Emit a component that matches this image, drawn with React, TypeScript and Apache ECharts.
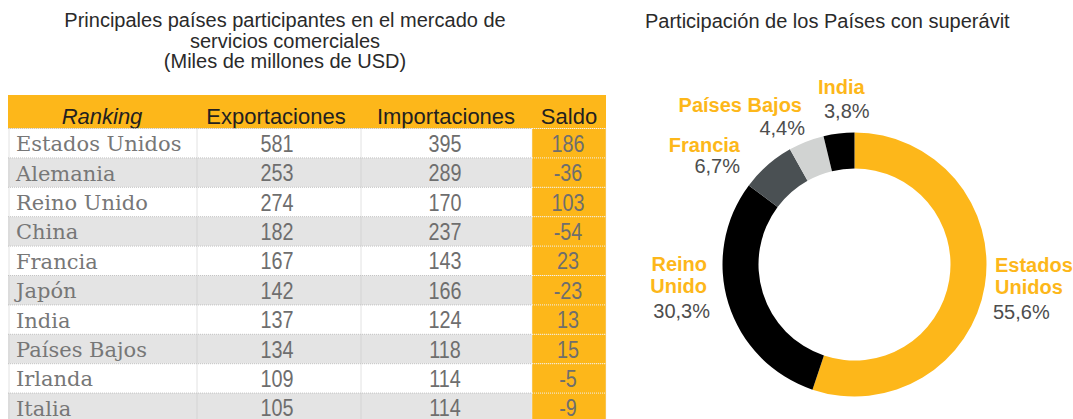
import React, { useEffect, useRef } from "react";
import * as echarts from "echarts";

const tableTitle = ["Principales países participantes en el mercado de", "servicios comerciales", "(Miles de millones de USD)"];
const tableHeaders = ["Ranking", "Exportaciones", "Importaciones", "Saldo"];
const countries = ["Estados Unidos", "Alemania", "Reino Unido", "China", "Francia", "Japón", "India", "Países Bajos", "Irlanda", "Italia"];
const exportsV = [581, 253, 274, 182, 167, 142, 137, 134, 109, 105];
const importsV = [395, 289, 170, 237, 143, 166, 124, 118, 114, 114];
const saldoV = [186, -36, 103, -54, 23, -23, 13, 15, -5, -9];

const donutTitle = "Participación de los Países con superávit";
const surplusNames = ["Estados Unidos", "Reino Unido", "Francia", "Países Bajos", "India"];
const surplusShare = [55.6, 30.3, 6.7, 4.4, 3.8];

const YEL = "#FDB71A";
const sliceColors = [YEL, "#000000", "#4A5053", "#D1D3D2", "#000000"];

const fmtPct = (v: number) => v.toFixed(1).replace(".", ",") + "%";

export default function App() {
  const ref = useRef<HTMLDivElement>(null);
  useEffect(() => {
    if (!ref.current) return;
    const chart = echarts.init(ref.current, null, { renderer: "svg" });
    const g: any[] = [];
    const sans = "'Liberation Sans', Arial, Helvetica, sans-serif";
    // left title
    const titleY = [20, 41, 61];
    tableTitle.forEach((t, i) =>
      g.push({ type: "text", x: 285, y: titleY[i], style: { text: t, fill: "#2A2A2A", font: `20px ${sans}`, align: "center", verticalAlign: "middle" } })
    );
    // table
    const colX = [8, 197, 361, 532, 606];
    const hTop = 95, hBot = 128.5, rowH = 29.4;
    g.push({ type: "rect", shape: { x: colX[0], y: hTop, width: colX[4] - colX[0], height: hBot - hTop }, style: { fill: YEL } });
    const hCenters = [102, 276, 446, 569];
    tableHeaders.forEach((t, i) =>
      g.push({ type: "text", x: hCenters[i], y: 116, style: { text: t, fill: "#231F20", font: `${i === 0 ? "italic " : ""}22px ${sans}`, align: "center", verticalAlign: "middle" } })
    );
    const numFont = `23px ${sans}`;
    const num = (x: number, y: number, v: number) => ({
      type: "text", x, y, scaleX: 0.86, style: { text: String(v), fill: "#6E6E6E", font: numFont, align: "center", verticalAlign: "middle" },
    });
    countries.forEach((c, r) => {
      const y0 = hBot + r * rowH;
      const fill = r % 2 === 1 ? "#E4E4E4" : "#FFFFFF";
      g.push({ type: "rect", shape: { x: colX[0], y: y0, width: colX[3] - colX[0], height: rowH }, style: { fill } });
      g.push({ type: "rect", shape: { x: colX[3], y: y0, width: colX[4] - colX[3], height: rowH }, style: { fill: YEL } });
      const cy = y0 + rowH / 2 + 1;
      g.push({ type: "text", x: 16, y: cy, style: { text: c, fill: "#777777", font: "21px 'DejaVu Serif', Georgia, serif", align: "left", verticalAlign: "middle" } });
      g.push(num(277, cy, exportsV[r]));
      g.push(num(445, cy, importsV[r]));
      g.push(num(568, cy, saldoV[r]));
      g.push({ type: "line", shape: { x1: colX[0], y1: y0, x2: colX[3], y2: y0 }, style: { stroke: "#C4C4C4", lineWidth: 1, lineDash: [1, 1] } });
      g.push({ type: "line", shape: { x1: colX[3], y1: y0, x2: colX[4], y2: y0 }, style: { stroke: "#EFEFEF", lineWidth: 1, lineDash: [1, 1] } });
    });
    const tBot = hBot + countries.length * rowH;
    [colX[0] + 1, colX[1], colX[2]].forEach((x) =>
      g.push({ type: "line", shape: { x1: x, y1: hBot, x2: x, y2: tBot }, style: { stroke: "#C4C4C4", lineWidth: 1, lineDash: [1, 1] } })
    );
    [colX[3], colX[4]].forEach((x) =>
      g.push({ type: "line", shape: { x1: x, y1: hBot, x2: x, y2: tBot }, style: { stroke: "#EFEFEF", lineWidth: 1, lineDash: [1, 1] } })
    );
    // right title
    g.push({ type: "text", x: 645, y: 21, style: { text: donutTitle, fill: "#2A2A2A", font: `20px ${sans}`, align: "left", verticalAlign: "middle" } });
    // donut labels
    const nameLines = ["Estados\nUnidos", "Reino\nUnido", "Francia", "Países Bajos", "India"];
    const lab = [
      { x: 995, y: 265, px: 993, py: 312, align: "left" },
      { x: 707, y: 264, px: 710, py: 311, align: "right" },
      { x: 740, y: 145, px: 740, py: 166, align: "right" },
      { x: 802, y: 105, px: 805, py: 128, align: "right" },
      { x: 818, y: 87, px: 824, py: 111, align: "left" },
    ];
    surplusNames.forEach((n, i) => {
      const L = lab[i];
      nameLines[i].split("\n").forEach((ln, k) =>
        g.push({ type: "text", x: L.x, y: L.y + k * 21.5, style: { text: ln, fill: YEL, font: `bold 20px ${sans}`, align: L.align, verticalAlign: "middle" } })
      );
      g.push({ type: "text", x: L.px, y: L.py, style: { text: fmtPct(surplusShare[i]), fill: "#4D4D4D", font: `20px ${sans}`, align: L.align, verticalAlign: "middle" } });
    });

    chart.setOption({
      animation: false,
      backgroundColor: "#FFFFFF",
      series: [
        {
          type: "pie",
          center: [854.5, 264.5],
          radius: [96, 132],
          startAngle: 90,
          clockwise: true,
          silent: true,
          label: { show: false },
          labelLine: { show: false },
          itemStyle: { borderWidth: 0 },
          data: surplusNames.map((n, i) => ({ name: n, value: surplusShare[i], itemStyle: { color: sliceColors[i] } })),
        },
      ],
      graphic: g,
    });
    return () => chart.dispose();
  }, []);
  return <div ref={ref} style={{ position: "fixed", left: 0, top: 0, width: 1073, height: 419 }} />;
}
